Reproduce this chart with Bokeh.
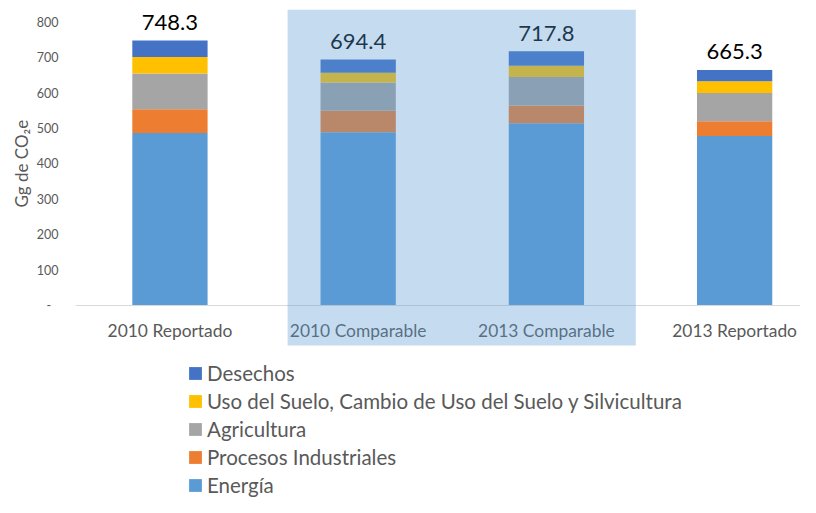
import math
from bokeh.plotting import figure
from bokeh.models import (Range1d, ColumnDataSource, Legend, LegendItem, Title,
                          FixedTicker, BoxAnnotation)
from bokeh.core.properties import value
from bokeh.embed import file_html
from bokeh.resources import INLINE

# ---------------- data ----------------
categories = ["2010 Reportado", "2010 Comparable", "2013 Comparable", "2013 Reportado"]
energia = [487.0, 489.0, 515.0, 479.0]
procesos = [67.0, 61.0, 50.0, 41.0]
agricultura = [101.0, 80.0, 80.0, 80.0]
uso_suelo = [47.0, 27.0, 32.0, 33.0]
desechos = [46.3, 37.4, 40.8, 32.3]
totals = [748.3, 694.4, 717.8, 665.3]
series_names = ["Energía", "Procesos Industriales", "Agricultura",
                "Uso del Suelo, Cambio de Uso del Suelo y Silvicultura", "Desechos"]
y_ticks = [0, 100, 200, 300, 400, 500, 600, 700, 800]
highlighted = ["2010 Comparable", "2013 Comparable"]

colors = ["#5b9bd5", "#ed7d31", "#a5a5a5", "#ffc000", "#4472c4"]
TEXT = "#595959"
FONT = "Lato"

xpos = list(range(len(categories)))
keys = ["energia", "procesos", "agricultura", "uso", "desechos"]
src = ColumnDataSource(dict(
    x=xpos, cat=categories,
    energia=energia, procesos=procesos, agricultura=agricultura,
    uso=uso_suelo, desechos=desechos,
    total=totals, total_txt=[f"{t:.1f}" for t in totals],
    zero=[0] * len(categories),
))

p = figure(width=800, height=497, output_backend="svg", toolbar_location=None,
           x_range=Range1d(-0.539, 3.350), y_range=Range1d(-542.2, 861.3),
           x_axis_location=None, min_border_left=68, min_border_right=0,
           min_border_top=0, min_border_bottom=0)
p.grid.visible = False
p.outline_line_color = None

renderers = p.vbar_stack(keys, x="x", width=0.4, source=src,
                         fill_color=colors, line_color=None)

# baseline (category axis line)
p.segment(x0=[xpos[0] - 0.5], y0=[0], x1=[xpos[-1] + 0.5], y1=[0],
          line_color="#d9d9d9", line_width=1)

# category labels
p.text(x="x", y="zero", text="cat", source=src, y_offset=25,
       text_align="center", text_baseline="middle",
       text_font=value(FONT), text_font_size="17.4px", text_color=TEXT)

# totals
p.text(x="x", y="total", text="total_txt", source=src, y_offset=-18,
       text_align="center", text_baseline="alphabetic",
       text_font=value(FONT), text_font_size="22px", text_color="#000000")

# y axis
ax = p.yaxis[0]
ax.ticker = FixedTicker(ticks=y_ticks)
ax.major_label_overrides = {0: "-\u2007"}
ax.axis_line_color = None
ax.major_tick_line_color = None
ax.minor_tick_line_color = None
ax.major_tick_out = 0
ax.major_tick_in = 0
ax.major_label_standoff = 10
ax.major_label_text_font = FONT
ax.major_label_text_font_size = "12.5px"
ax.major_label_text_color = TEXT

# y axis title
ytitle = Title(text="Gg de CO₂e", align="left", offset=290, standoff=4,
               text_font=FONT, text_font_size="17px", text_font_style="normal",
               text_color=TEXT)
p.add_layout(ytitle, "left")

# highlight overlay
i0 = categories.index(highlighted[0])
i1 = categories.index(highlighted[-1])
box = BoxAnnotation(left=i0 - 0.375, right=i1 + 0.475, bottom=-113, top=835,
                    fill_color="#5b9bd5", fill_alpha=0.354, line_color=None)
p.add_layout(box)

# legend (reverse order)
items = [LegendItem(label=series_names[k], renderers=[renderers[k]])
         for k in reversed(range(len(series_names)))]
legend = Legend(items=items, location=(119, 0), orientation="vertical",
                border_line_color=None, background_fill_alpha=0,
                padding=0, margin=0, spacing=4,
                glyph_width=16, glyph_height=16, label_standoff=4,
                label_height=23, label_text_font=FONT,
                label_text_font_size="20.5px", label_text_color=TEXT)
p.add_layout(legend)

open("out.html", "w").write(file_html(p, INLINE))
